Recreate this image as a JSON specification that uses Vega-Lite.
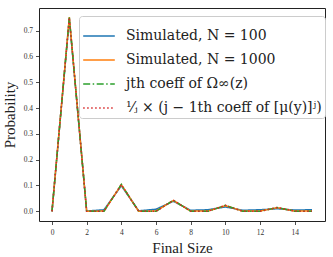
{
  "$schema": "https://vega.github.io/schema/vega-lite/v6.json",
  "width": 286,
  "height": 213,
  "autosize": {"type": "none"},
  "padding": {"left": 39, "top": 8, "right": 8, "bottom": 36},
  "background": "white",
  "config": {
    "view": {"stroke": "#222", "strokeWidth": 1},
    "font": "Liberation Serif",
    "axis": {"grid": false, "domain": false, "tickColor": "#222", "tickSize": 3.5, "tickWidth": 0.8,
             "labelFontSize": 7.5, "labelColor": "#333", "titleFontSize": 15, "titleFontWeight": "normal", "titleColor": "#222",
             "labelFont": "Liberation Serif", "titleFont": "Liberation Serif"}
  },
  "data": {"values": [
    {"series": "Simulated, N = 100", "x": 0, "y": 0},
    {"series": "Simulated, N = 100", "x": 1, "y": 0.747},
    {"series": "Simulated, N = 100", "x": 2, "y": 0.001},
    {"series": "Simulated, N = 100", "x": 3, "y": 0.006},
    {"series": "Simulated, N = 100", "x": 4, "y": 0.099},
    {"series": "Simulated, N = 100", "x": 5, "y": 0.002},
    {"series": "Simulated, N = 100", "x": 6, "y": 0.008},
    {"series": "Simulated, N = 100", "x": 7, "y": 0.039},
    {"series": "Simulated, N = 100", "x": 8, "y": 0.004},
    {"series": "Simulated, N = 100", "x": 9, "y": 0.006},
    {"series": "Simulated, N = 100", "x": 10, "y": 0.017},
    {"series": "Simulated, N = 100", "x": 11, "y": 0.004},
    {"series": "Simulated, N = 100", "x": 12, "y": 0.006},
    {"series": "Simulated, N = 100", "x": 13, "y": 0.010},
    {"series": "Simulated, N = 100", "x": 14, "y": 0.005},
    {"series": "Simulated, N = 100", "x": 15, "y": 0.006},
    {"series": "Simulated, N = 1000", "x": 0, "y": 0},
    {"series": "Simulated, N = 1000", "x": 1, "y": 0.752},
    {"series": "Simulated, N = 1000", "x": 2, "y": 0},
    {"series": "Simulated, N = 1000", "x": 3, "y": 0.001},
    {"series": "Simulated, N = 1000", "x": 4, "y": 0.103},
    {"series": "Simulated, N = 1000", "x": 5, "y": 0},
    {"series": "Simulated, N = 1000", "x": 6, "y": 0.001},
    {"series": "Simulated, N = 1000", "x": 7, "y": 0.042},
    {"series": "Simulated, N = 1000", "x": 8, "y": 0.001},
    {"series": "Simulated, N = 1000", "x": 9, "y": 0.001},
    {"series": "Simulated, N = 1000", "x": 10, "y": 0.022},
    {"series": "Simulated, N = 1000", "x": 11, "y": 0.001},
    {"series": "Simulated, N = 1000", "x": 12, "y": 0.001},
    {"series": "Simulated, N = 1000", "x": 13, "y": 0.014},
    {"series": "Simulated, N = 1000", "x": 14, "y": 0.001},
    {"series": "Simulated, N = 1000", "x": 15, "y": 0.001},
    {"series": "jth coeff of Ω∞(z)", "x": 0, "y": 0},
    {"series": "jth coeff of Ω∞(z)", "x": 1, "y": 0.75},
    {"series": "jth coeff of Ω∞(z)", "x": 2, "y": 0},
    {"series": "jth coeff of Ω∞(z)", "x": 3, "y": 0},
    {"series": "jth coeff of Ω∞(z)", "x": 4, "y": 0.104},
    {"series": "jth coeff of Ω∞(z)", "x": 5, "y": 0},
    {"series": "jth coeff of Ω∞(z)", "x": 6, "y": 0},
    {"series": "jth coeff of Ω∞(z)", "x": 7, "y": 0.043},
    {"series": "jth coeff of Ω∞(z)", "x": 8, "y": 0},
    {"series": "jth coeff of Ω∞(z)", "x": 9, "y": 0},
    {"series": "jth coeff of Ω∞(z)", "x": 10, "y": 0.023},
    {"series": "jth coeff of Ω∞(z)", "x": 11, "y": 0},
    {"series": "jth coeff of Ω∞(z)", "x": 12, "y": 0},
    {"series": "jth coeff of Ω∞(z)", "x": 13, "y": 0.015},
    {"series": "jth coeff of Ω∞(z)", "x": 14, "y": 0},
    {"series": "jth coeff of Ω∞(z)", "x": 15, "y": 0},
    {"series": "¹⁄ⱼ × (j − 1th coeff of [μ(y)]ʲ)", "x": 0, "y": 0},
    {"series": "¹⁄ⱼ × (j − 1th coeff of [μ(y)]ʲ)", "x": 1, "y": 0.75},
    {"series": "¹⁄ⱼ × (j − 1th coeff of [μ(y)]ʲ)", "x": 2, "y": 0},
    {"series": "¹⁄ⱼ × (j − 1th coeff of [μ(y)]ʲ)", "x": 3, "y": 0},
    {"series": "¹⁄ⱼ × (j − 1th coeff of [μ(y)]ʲ)", "x": 4, "y": 0.104},
    {"series": "¹⁄ⱼ × (j − 1th coeff of [μ(y)]ʲ)", "x": 5, "y": 0},
    {"series": "¹⁄ⱼ × (j − 1th coeff of [μ(y)]ʲ)", "x": 6, "y": 0},
    {"series": "¹⁄ⱼ × (j − 1th coeff of [μ(y)]ʲ)", "x": 7, "y": 0.043},
    {"series": "¹⁄ⱼ × (j − 1th coeff of [μ(y)]ʲ)", "x": 8, "y": 0},
    {"series": "¹⁄ⱼ × (j − 1th coeff of [μ(y)]ʲ)", "x": 9, "y": 0},
    {"series": "¹⁄ⱼ × (j − 1th coeff of [μ(y)]ʲ)", "x": 10, "y": 0.023},
    {"series": "¹⁄ⱼ × (j − 1th coeff of [μ(y)]ʲ)", "x": 11, "y": 0},
    {"series": "¹⁄ⱼ × (j − 1th coeff of [μ(y)]ʲ)", "x": 12, "y": 0},
    {"series": "¹⁄ⱼ × (j − 1th coeff of [μ(y)]ʲ)", "x": 13, "y": 0.015},
    {"series": "¹⁄ⱼ × (j − 1th coeff of [μ(y)]ʲ)", "x": 14, "y": 0},
    {"series": "¹⁄ⱼ × (j − 1th coeff of [μ(y)]ʲ)", "x": 15, "y": 0}
  ]},
  "mark": {"type": "line", "strokeWidth": 1.5, "clip": true},
  "encoding": {
    "x": {"field": "x", "type": "quantitative", "title": "Final Size",
          "scale": {"domain": [-0.75, 15.75], "nice": false, "zero": false},
          "axis": {"values": [0, 2, 4, 6, 8, 10, 12, 14], "labelPadding": 4, "titlePadding": 4}},
    "y": {"field": "y", "type": "quantitative", "title": "Probability",
          "scale": {"domain": [-0.0375, 0.7875], "nice": false, "zero": false},
          "axis": {"values": [0, 0.1, 0.2, 0.3, 0.4, 0.5, 0.6, 0.7], "format": ".1f", "labelPadding": 3, "titlePadding": 6}},
    "color": {"field": "series", "type": "nominal",
              "scale": {"domain": ["Simulated, N = 100", "Simulated, N = 1000", "jth coeff of Ω∞(z)", "¹⁄ⱼ × (j − 1th coeff of [μ(y)]ʲ)"],
                        "range": ["#1f77b4", "#ff7f0e", "#2ca02c", "#d62728"]},
              "legend": {"title": null, "orient": "none", "legendX": 40, "legendY": 8,
                         "symbolType": "stroke", "symbolSize": 1000, "symbolStrokeWidth": 1.5,
                         "labelFontSize": 14, "labelFont": "DejaVu Serif", "labelColor": "#222", "labelLimit": 300,
                         "rowPadding": 0, "padding": 3, "fillColor": "white", "strokeColor": "#ccc", "cornerRadius": 3,
                         "labelOffset": 10}},
    "strokeDash": {"field": "series", "type": "nominal",
                   "scale": {"domain": ["Simulated, N = 100", "Simulated, N = 1000", "jth coeff of Ω∞(z)", "¹⁄ⱼ × (j − 1th coeff of [μ(y)]ʲ)"],
                             "range": [[1, 0], [1, 0], [7, 2.5, 1.5, 2.5], [1.5, 2.5]]},
                   "legend": null}
  }
}
